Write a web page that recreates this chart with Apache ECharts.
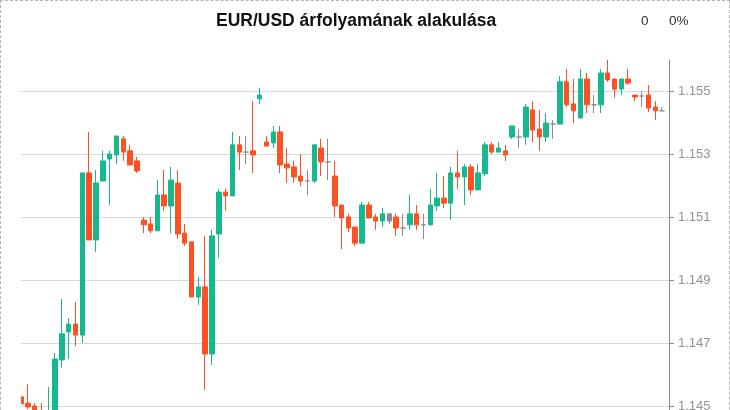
<!DOCTYPE html>
<html>
<head>
<meta charset="utf-8">
<script src="https://cdn.jsdelivr.net/npm/echarts@6/dist/echarts.min.js"></script>
<style>
html, body { margin: 0; padding: 0; width: 730px; height: 410px; overflow: hidden; background: #fff; }
#chart { position: absolute; left: 0; top: 0; width: 730px; height: 480px; clip-path: inset(0px 0px 0px 21px); }
#frame { position: absolute; left: 0; top: 0; width: 730px; height: 480px; box-sizing: border-box; border: 1px dashed #b4b4b4; pointer-events: none; }
</style>
</head>
<body>
<div id="chart"></div>
<div id="frame"></div>
<script>
const titleText = 'EUR/USD árfolyamának alakulása';
const changeText = '0';
const changePctText = '0%';
const yTicks = { min: 1.143, max: 1.156, interval: 0.002 };

const opens = [1.14530,1.14510,1.14501,1.14485,1.14455,1.14475,1.14647,1.14736,1.14761,1.14726,
1.15241,1.15028,1.15215,1.15285,1.15298,1.15349,1.15311,1.15279,1.15091,1.15079,
1.15057,1.15171,1.15136,1.15209,1.15050,1.15022,1.14847,1.14879,1.14666,1.15047,
1.15180,1.15168,1.15330,1.15307,1.15311,1.15476,1.15339,1.15336,1.15371,1.15269,
1.15260,1.15231,1.15215,1.15215,1.15320,1.15276,1.15231,1.15139,1.15101,1.15069,
1.15018,1.15139,1.15101,1.15088,1.15111,1.15101,1.15066,1.15076,1.15111,1.15076,
1.15076,1.15136,1.15161,1.15145,1.15241,1.15228,1.15260,1.15187,1.15238,1.15330,
1.15307,1.15311,1.15355,1.15355,1.15355,1.15441,1.15380,1.15355,1.15396,1.15396,
1.15530,1.15460,1.15415,1.15539,1.15457,1.15457,1.15558,1.15539,1.15507,1.15539,
1.15488,1.15485,1.15488,1.15450,1.15438];
const closes = [1.14508,1.14498,1.14485,1.14470,1.14480,1.14650,1.14730,1.14761,1.14726,1.15241,
1.15028,1.15209,1.15279,1.15301,1.15358,1.15307,1.15266,1.15247,1.15076,1.15057,
1.15171,1.15136,1.15218,1.15047,1.15018,1.14847,1.14879,1.14666,1.15041,1.15180,
1.15168,1.15330,1.15307,1.15307,1.15298,1.15488,1.15326,1.15371,1.15266,1.15257,
1.15228,1.15215,1.15215,1.15330,1.15276,1.15276,1.15136,1.15098,1.15066,1.15018,
1.15139,1.15098,1.15088,1.15111,1.15088,1.15066,1.15066,1.15111,1.15076,1.15076,
1.15139,1.15161,1.15145,1.15241,1.15228,1.15260,1.15187,1.15241,1.15330,1.15307,
1.15320,1.15298,1.15390,1.15355,1.15450,1.15377,1.15355,1.15399,1.15396,1.15530,
1.15457,1.15438,1.15539,1.15457,1.15457,1.15558,1.15536,1.15507,1.15539,1.15526,
1.15482,1.15485,1.15447,1.15438,1.15438];
const lows = [1.14501,1.14491,1.14478,1.14462,1.14440,1.14465,1.14622,1.14650,1.14691,1.14701,
1.15028,1.14990,1.15215,1.15139,1.15269,1.15279,1.15266,1.15241,1.15050,1.15050,
1.15057,1.15120,1.15050,1.15031,1.15009,1.14847,1.14822,1.14552,1.14631,1.14971,
1.15120,1.15168,1.15250,1.15269,1.15241,1.15460,1.15326,1.15320,1.15241,1.15209,
1.15209,1.15199,1.15171,1.15209,1.15231,1.15218,1.15101,1.14999,1.15053,1.15009,
1.15018,1.15098,1.15060,1.15069,1.15079,1.15041,1.15041,1.15060,1.15060,1.15031,
1.15076,1.15120,1.15130,1.15092,1.15190,1.15139,1.15171,1.15187,1.15231,1.15301,
1.15307,1.15279,1.15349,1.15320,1.15330,1.15339,1.15311,1.15339,1.15349,1.15396,
1.15450,1.15399,1.15415,1.15431,1.15431,1.15431,1.15530,1.15479,1.15488,1.15520,
1.15469,1.15450,1.15434,1.15409,1.15438];
const highs = [1.14542,1.14571,1.14510,1.14510,1.14561,1.14669,1.14841,1.14780,1.14831,1.15241,
1.15371,1.15250,1.15311,1.15311,1.15358,1.15358,1.15330,1.15292,1.15101,1.15101,
1.15218,1.15250,1.15260,1.15250,1.15079,1.15022,1.14911,1.15041,1.15060,1.15190,
1.15190,1.15371,1.15358,1.15358,1.15469,1.15511,1.15358,1.15390,1.15390,1.15320,
1.15279,1.15301,1.15250,1.15330,1.15349,1.15349,1.15279,1.15139,1.15111,1.15069,
1.15149,1.15149,1.15111,1.15130,1.15111,1.15111,1.15111,1.15171,1.15139,1.15111,
1.15190,1.15241,1.15231,1.15260,1.15311,1.15269,1.15269,1.15269,1.15339,1.15339,
1.15339,1.15330,1.15390,1.15380,1.15460,1.15469,1.15441,1.15431,1.15409,1.15549,
1.15571,1.15539,1.15571,1.15558,1.15488,1.15571,1.15600,1.15539,1.15539,1.15571,
1.15488,1.15501,1.15520,1.15469,1.15450];
const greyBodyIdx = [54];

const upColor = '#16b88f';
const downColor = '#ff5023';
const flatColor = '#8c8c8c';
const font = "'Liberation Sans', Arial, sans-serif";

const data = opens.map(function (o, i) {
  const item = { value: [i, o, closes[i], lows[i], highs[i]] };
  if (o === closes[i] || greyBodyIdx.indexOf(i) >= 0) {
    item.itemStyle = { color: flatColor, color0: flatColor, borderColor: flatColor, borderColor0: flatColor, borderColorDoji: flatColor };
  }
  return item;
});

const chart = echarts.init(document.getElementById('chart'), null, { renderer: 'canvas' });
chart.setOption({
  animation: false,
  backgroundColor: 'transparent',
  title: [
    { text: titleText, left: 216, top: 12, padding: 0,
      textStyle: { fontFamily: font, fontSize: 17.5, fontWeight: 'bold', color: '#111' } },
    { text: changeText, left: 641, top: 14, padding: 0,
      textStyle: { fontFamily: font, fontSize: 13.5, fontWeight: 'normal', color: '#333' } },
    { text: changePctText, left: 669, top: 14, padding: 0,
      textStyle: { fontFamily: font, fontSize: 13.5, fontWeight: 'normal', color: '#333' } }
  ],
  grid: { left: 21, right: 61, top: 59.8, bottom: 10.7, containLabel: false },
  xAxis: { type: 'value', min: 0, max: opens.length, show: false, splitLine: { show: false } },
  yAxis: {
    type: 'value', position: 'right', scale: true,
    min: yTicks.min, max: yTicks.max, interval: yTicks.interval,
    axisLine: { show: true, onZero: false, lineStyle: { color: '#8a8a8a', width: 1 } },
    axisTick: { show: true, inside: false, length: 5, lineStyle: { color: '#8a8a8a' } },
    axisLabel: { show: true, showMaxLabel: false, margin: 9, color: '#8e9399', fontFamily: font, fontSize: 13,
      formatter: function (v) { return v.toFixed(3); } },
    splitLine: { show: true, showMaxLine: false, lineStyle: { color: '#d5d8dc', width: 1 } }
  },
  series: [{
    type: 'candlestick',
    data: data,
    encode: { x: 0, y: [1, 2, 3, 4] },
    barWidth: 5,
    clip: true,
    itemStyle: {
      color: upColor, color0: downColor,
      borderColor: upColor, borderColor0: downColor, borderColorDoji: flatColor,
      borderWidth: 1
    }
  }]
});
</script>
</body>
</html>
